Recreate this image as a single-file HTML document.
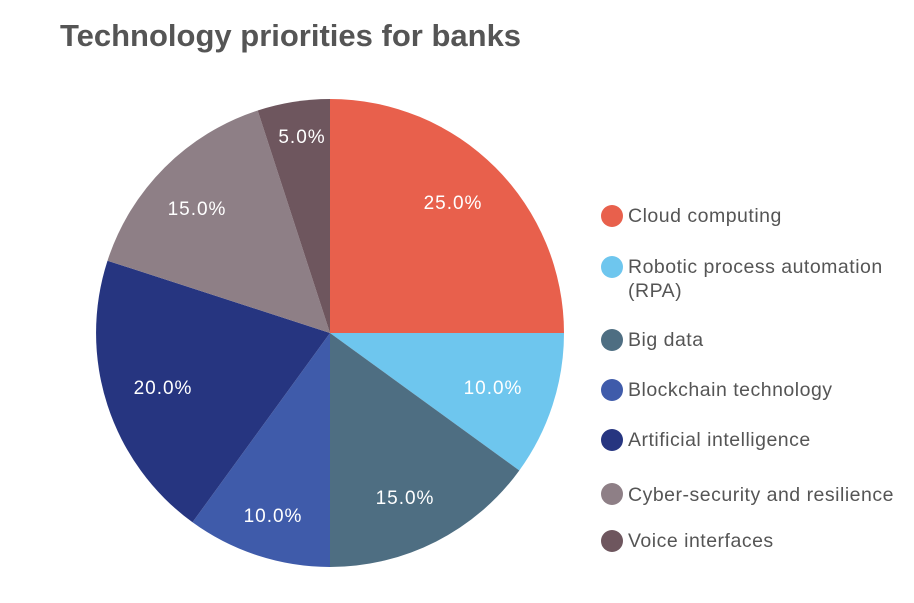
<!DOCTYPE html>
<html><head><style>
body{margin:0;background:#fff;width:914px;height:598px;overflow:hidden;font-family:"Liberation Sans",sans-serif}
</style></head><body>
<svg width="914" height="598" xmlns="http://www.w3.org/2000/svg" font-family="Liberation Sans, sans-serif">
<text x="60" y="46" font-size="31" font-weight="bold" fill="#555">Technology priorities for banks</text>
<path d="M330,333 L330,99 A234,234 0 0 1 564,333Z" fill="#E8604C"/>
<path d="M330,333 L564,333 A234,234 0 0 1 519.3,470.5Z" fill="#6EC6EE"/>
<path d="M330,333 L519.3,470.5 A234,234 0 0 1 330,567Z" fill="#4E6E82"/>
<path d="M330,333 L330,567 A234,234 0 0 1 192.5,522.3Z" fill="#3F5BAA"/>
<path d="M330,333 L192.5,522.3 A234,234 0 0 1 107.5,260.7Z" fill="#263580"/>
<path d="M330,333 L107.5,260.7 A234,234 0 0 1 257.7,110.5Z" fill="#8E7F86"/>
<path d="M330,333 L257.7,110.5 A234,234 0 0 1 330,99Z" fill="#6E565E"/>
<g fill="#fff" font-size="19" text-anchor="middle" letter-spacing="1">
<text x="453" y="209">25.0%</text>
<text x="493" y="394">10.0%</text>
<text x="405" y="504">15.0%</text>
<text x="273" y="522">10.0%</text>
<text x="163" y="394">20.0%</text>
<text x="197" y="215">15.0%</text>
<text x="302" y="143">5.0%</text>
</g>
<g font-size="19.5" fill="#555" letter-spacing="0.5">
<circle cx="612" cy="216" r="11" fill="#E8604C"/><text x="628" y="222">Cloud computing</text>
<circle cx="612" cy="267" r="11" fill="#6EC6EE"/><text x="628" y="273">Robotic process automation</text><text x="628" y="297">(RPA)</text>
<circle cx="612" cy="340" r="11" fill="#4E6E82"/><text x="628" y="346">Big data</text>
<circle cx="612" cy="390" r="11" fill="#3F5BAA"/><text x="628" y="396">Blockchain technology</text>
<circle cx="612" cy="440" r="11" fill="#263580"/><text x="628" y="446">Artificial intelligence</text>
<circle cx="612" cy="494" r="11" fill="#8E7F86"/><text x="628" y="501">Cyber-security and resilience</text>
<circle cx="612" cy="541" r="11" fill="#6E565E"/><text x="628" y="547">Voice interfaces</text>
</g>
</svg>
</body></html>
